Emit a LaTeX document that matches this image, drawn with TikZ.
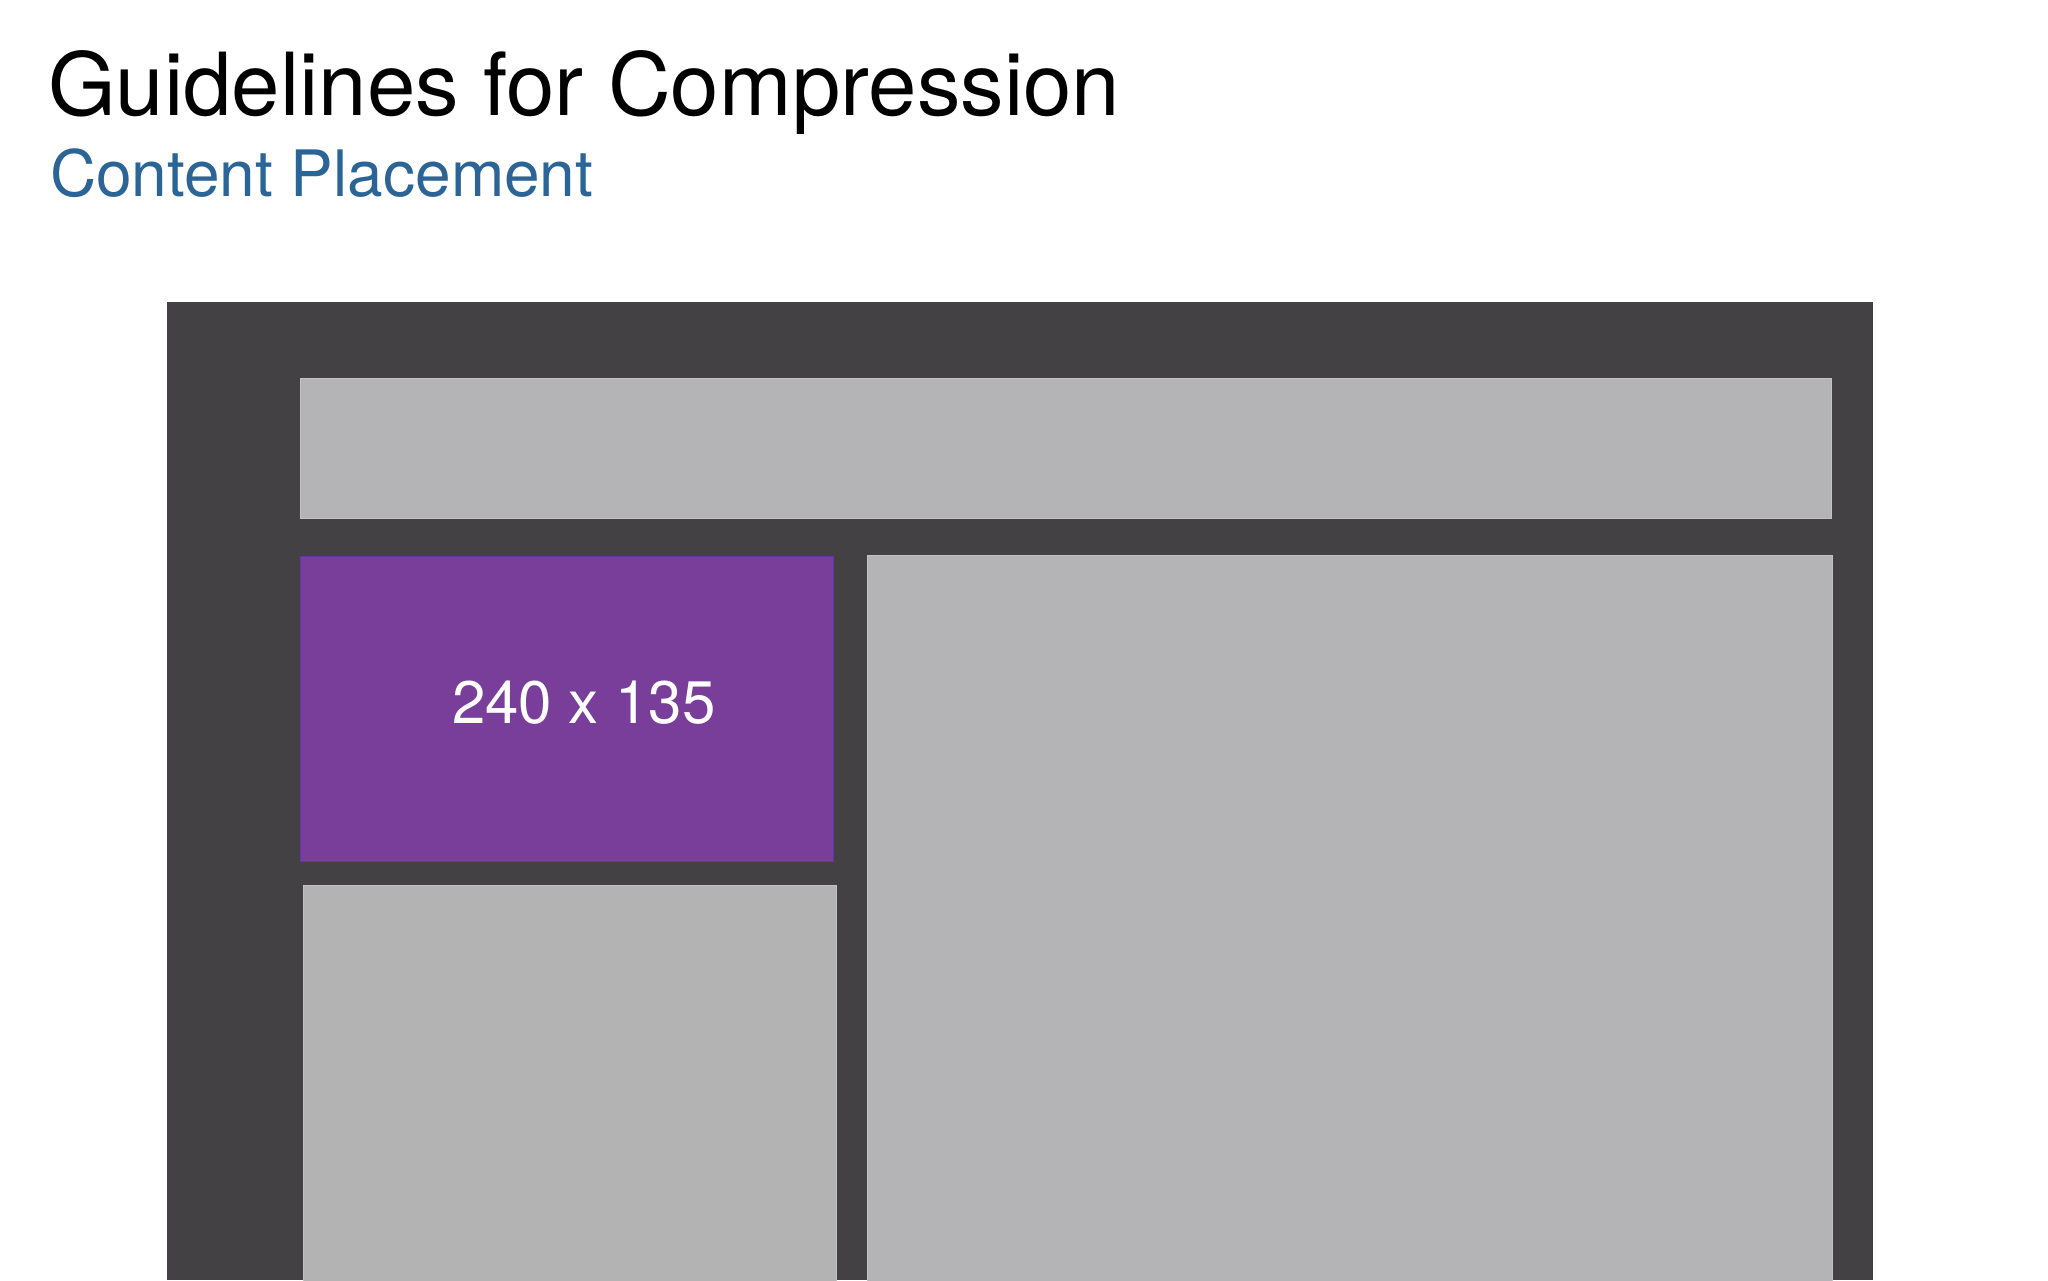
\documentclass[tikz,border=0pt]{standalone}
\usepackage{fontspec}
\setmainfont{TeX Gyre Heros}
\usepackage{tikz}
\definecolor{framegray}{HTML}{434143}
\definecolor{panegray}{HTML}{B4B3B6}
\definecolor{sidegray}{HTML}{B3B3B3}
\definecolor{edgegray}{HTML}{C2C1C4}
\definecolor{thumbpurple}{HTML}{783E9A}
\definecolor{subblue}{HTML}{2B6496}

\begin{document}
\begin{tikzpicture}[x=1pt,y=-1pt,
  pane/.style={fill=panegray,draw=edgegray,line width=0.8pt,inner sep=0pt,outer sep=0pt,anchor=north west},
  every node/.style={inner sep=0pt,outer sep=0pt}]
  \useasboundingbox[fill=white] (0,0) rectangle (2048,1280);
  \fill[framegray] (167,302) rectangle (1873,1280);
  \node[pane,minimum width=1531pt,minimum height=140pt] (topbar) at (300,378) {};
  \node[pane,fill=thumbpurple,draw=thumbpurple!85!blue,minimum width=533pt,minimum height=305pt] (thumb) at (300,556) {};
  \node[pane,fill=sidegray,minimum width=533pt,minimum height=400pt] (sidebar) at (303,885) {};
  \node[pane,minimum width=965pt,minimum height=730pt] (mainpane) at (867,555) {};
  \node[anchor=base west,text=white,font=\fontsize{60}{68}\selectfont] (size) at (452,723) {240 x 135};
  \node[anchor=base west,font=\fontsize{87}{96}\selectfont] (title) at (48,115) {Guidelines for Compression};
  \node[anchor=base west,text=subblue,font=\fontsize{64}{72}\selectfont] (subtitle) at (50,196) {Content Placement};
\end{tikzpicture}
\end{document}
